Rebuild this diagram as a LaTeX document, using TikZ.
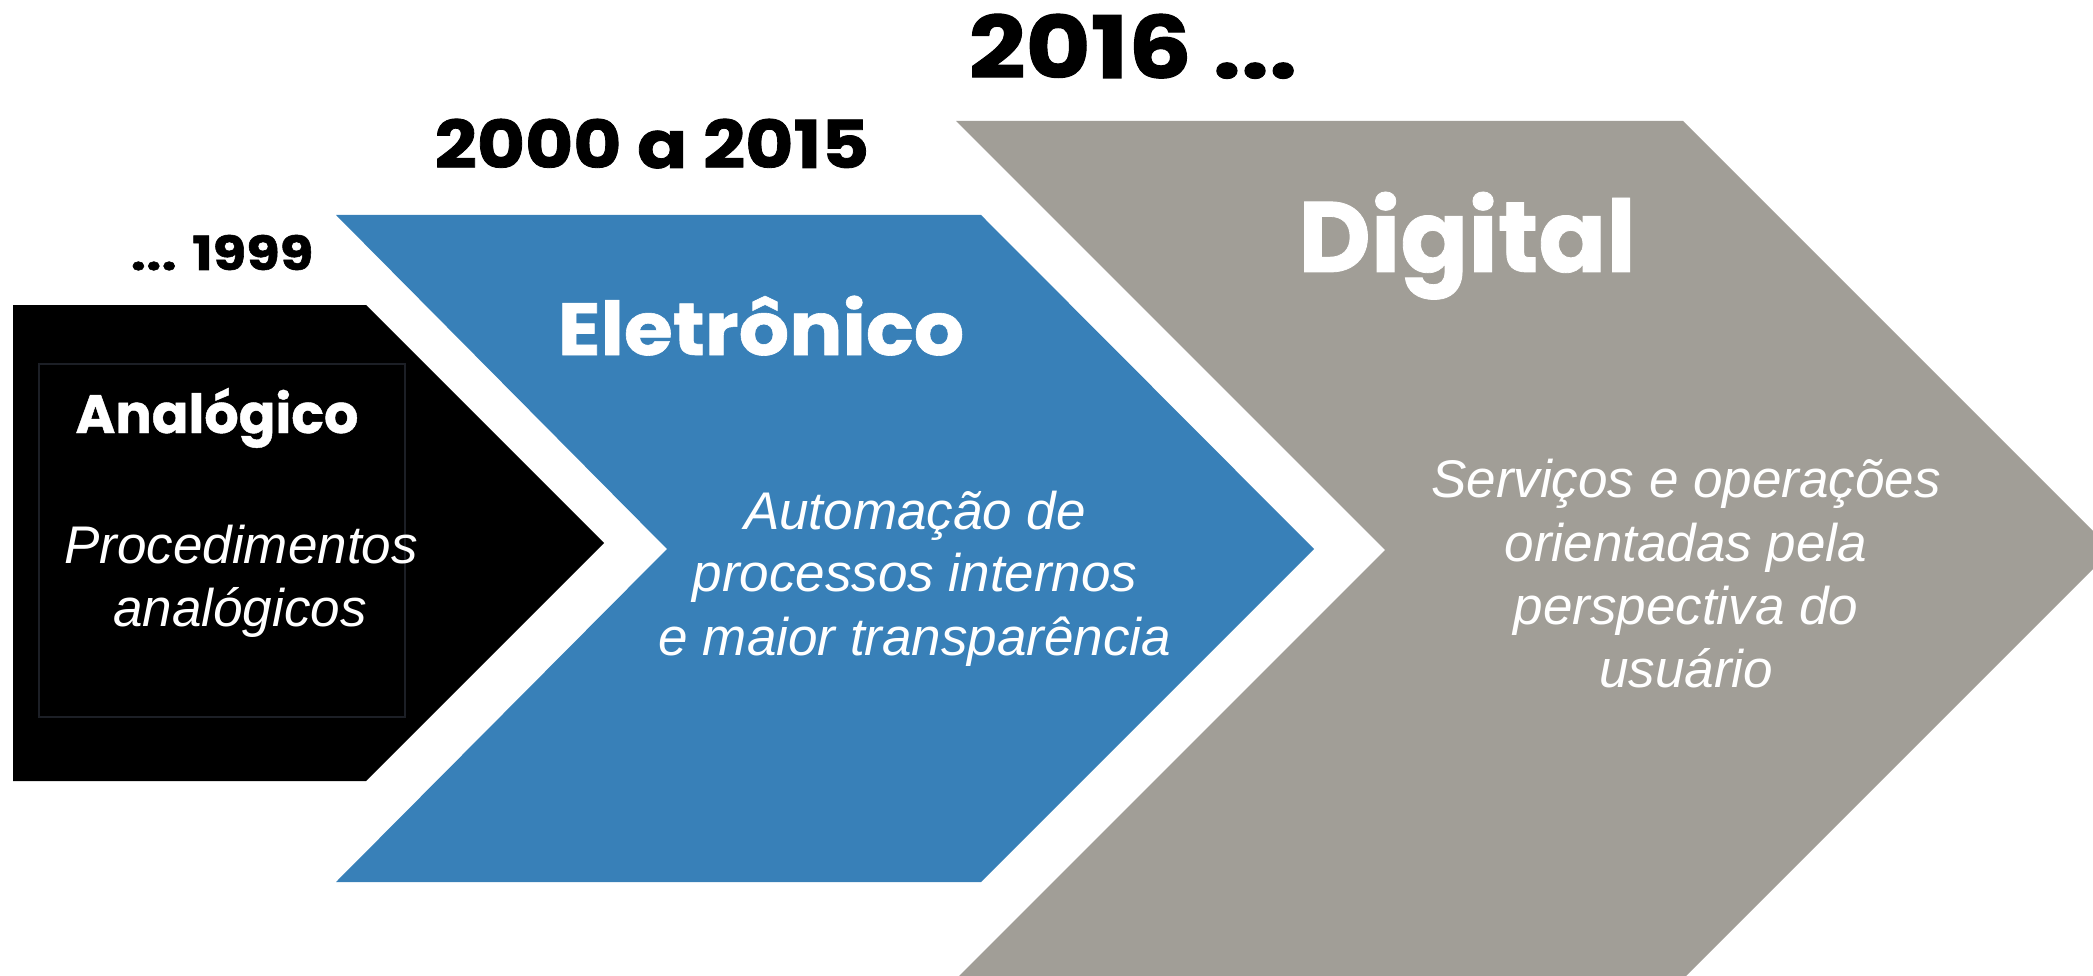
\documentclass[tikz,border=0pt]{standalone}
\usepackage{fontspec}
\setmainfont{Liberation Sans}
\newfontfamily\headfont{Poppins}[FakeBold=0.8]
\newfontfamily\headwidea{Poppins}[FakeStretch=1.07, FakeBold=0.8]
\newfontfamily\headwideb{Poppins}[FakeStretch=1.12, FakeBold=1.2]
\newfontfamily\headwidec{Poppins}[FakeStretch=1.16, FakeBold=1.2]
\definecolor{chevblue}{RGB}{56,128,184}
\definecolor{chevgray}{RGB}{161,158,151}
\definecolor{innerline}{RGB}{28,31,38}
\tikzset{
  head/.style={inner sep=0pt, anchor=base},
  body/.style={inner sep=0pt, anchor=base, text=white, font=\fontsize{53}{63}\selectfont\itshape},
}
\begin{document}
\begin{tikzpicture}[x=1pt,y=-1pt]
\useasboundingbox (0,0) rectangle (2093,976);
\begin{scope}
\clip (0,0) rectangle (2093,976);
\fill[chevgray] (956,121) -- (1683,121) -- (2112,550) -- (1683,979) -- (956,979) -- (1385,550) -- cycle;
\end{scope}
\fill[chevblue] (336,215) -- (981,215) -- (1314,549) -- (981,882) -- (336,882) -- (667,549) -- cycle;
\fill[black] (13,305) -- (366,305) -- (604,543) -- (366,781) -- (13,781) -- cycle;
\draw[innerline, line width=1.2pt] (39,364) rectangle (405,717);

\node[head, font=\headwidec\bfseries\fontsize{47}{56}\selectfont] (y1999) at (222,270) {... 1999};
\node[head, font=\headwideb\bfseries\fontsize{66}{78}\selectfont] (y2000) at (652,168) {2000 a 2015};
\node[head, font=\headwidec\bfseries\fontsize{86}{100}\selectfont] (y2016) at (1133,78) {2016 ...};

\node[head, text=white, font=\headfont\bfseries\fontsize{54}{64}\selectfont] (analog) at (217,433) {Analógico};
\node[head, text=white, font=\headwidea\bfseries\fontsize{74}{88}\selectfont] (eletr) at (761,355) {Eletrônico};
\node[head, text=white, font=\headfont\bfseries\fontsize{100}{120}\selectfont] (digit) at (1467,272) {Digital};

\node[body] (a1) at (241,563) {Procedimentos};
\node[body] (a2) at (240,626) {analógicos};

\node[body] (b1) at (915,529) {Automação de};
\node[body] (b2) at (915,591) {processos internos};
\node[body] (b3) at (915,655) {e maior transparência};

\node[body] (c1) at (1686,497) {Serviços e operações};
\node[body] (c2) at (1686,561) {orientadas pela};
\node[body] (c3) at (1686,624) {perspectiva do};
\node[body] (c4) at (1686,687) {usuário};
\end{tikzpicture}
\end{document}
